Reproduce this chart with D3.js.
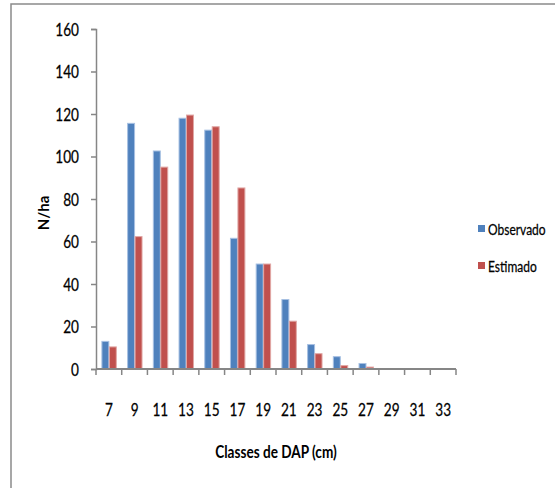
<!DOCTYPE html>
<html>
<head>
<meta charset="utf-8">
<script src="https://cdn.jsdelivr.net/npm/d3@7"></script>
<style>
  html, body { margin: 0; padding: 0; background: #fff; }
  svg { display: block; }
  text { font-family: Lato, "Open Sans", sans-serif; fill: #000; }
</style>
</head>
<body>
<svg id="chart" width="555" height="488"></svg>
<script>
// Diameter classes (cm) and stem density per hectare
const categories = ["7", "9", "11", "13", "15", "17", "19", "21", "23", "25", "27", "29", "31", "33"];
const observado = [13, 115.6, 102.6, 118, 112.4, 61.5, 49.4, 32.7, 11.5, 5.8, 2.6, 0, 0, 0];
const estimado  = [10.4, 62.3, 95, 119.5, 114, 85.2, 49.4, 22.5, 7.2, 1.6, 0.9, 0, 0, 0];
const yTicks = [0, 20, 40, 60, 80, 100, 120, 140, 160];
const seriesNames = ["Observado", "Estimado"];
const seriesColors = ["#4f81bd", "#c0504d"];
const seriesEdges = ["#a7c0e2", "#e0a7a5"];

const svg = d3.select("#chart");
const SX = 0.8;            // horizontal squeeze applied to all labels
const axisColor = "#868686";

// outer chart frame
svg.append("rect")
  .attr("x", 11).attr("y", 4)
  .attr("width", 700).attr("height", 600)
  .attr("fill", "none")
  .attr("stroke", "#8a8a8a")
  .attr("stroke-width", 1.5);

const plot = { left: 96, right: 456, top: 29, bottom: 369 };

const x = d3.scaleBand()
  .domain(categories)
  .range([plot.left, plot.right])
  .paddingInner(0.42)
  .paddingOuter(0.21);

const xSub = d3.scaleBand()
  .domain(seriesNames)
  .range([0, x.bandwidth()]);

const y = d3.scaleLinear()
  .domain([0, 160])
  .range([plot.bottom, plot.top]);

function label(g, tx, ty, str, opts = {}) {
  return g.append("text")
    .attr("transform", `translate(${tx},${ty}) scale(${opts.sx ?? SX},1)` + (opts.rotate ? ` rotate(${opts.rotate})` : ""))
    .attr("text-anchor", opts.anchor || "middle")
    .attr("dominant-baseline", "central")
    .style("font-size", (opts.size || 17) + "px")
    .style("font-weight", opts.bold ? "bold" : "normal")
    .style("stroke", opts.bold ? "none" : "#000")
    .style("stroke-width", opts.bold ? 0 : 0.25)
    .text(str);
}

// bars
const rows = categories.map((c, i) => ({ c, vals: [observado[i], estimado[i]] }));
const groups = svg.append("g").selectAll("g")
  .data(rows).join("g")
  .attr("transform", d => `translate(${x(d.c)},0)`);

groups.selectAll("rect")
  .data(d => d.vals.map((v, k) => ({ v, k })))
  .join("rect")
  .attr("x", d => xSub(seriesNames[d.k]) + 0.5)
  .attr("width", xSub.bandwidth() - 0.5)
  .attr("y", d => y(d.v))
  .attr("height", d => y(0) - y(d.v))
  .attr("fill", d => seriesColors[d.k])
  .attr("stroke", d => d.v > 0 ? seriesEdges[d.k] : "none")
  .attr("stroke-width", 1);

// y axis
const yAxis = svg.append("g")
  .attr("transform", `translate(${plot.left},0)`)
  .call(d3.axisLeft(y).tickValues(yTicks).tickSize(5).tickFormat(() => ""));
yAxis.selectAll("path, line").attr("stroke", axisColor).attr("stroke-width", 1.5);
yTicks.forEach(t => label(svg, plot.left - 17, y(t), String(t), { anchor: "end" }));

// x axis: ticks sit on category boundaries
const xAxis = svg.append("g")
  .attr("transform", `translate(0,${plot.bottom})`);
xAxis.append("line")
  .attr("x1", plot.left).attr("x2", plot.right)
  .attr("stroke", axisColor).attr("stroke-width", 2);
const step = x.step();
xAxis.selectAll("line.tick")
  .data(d3.range(categories.length + 1))
  .join("line")
  .attr("class", "tick")
  .attr("x1", i => plot.left + i * step)
  .attr("x2", i => plot.left + i * step)
  .attr("y1", 0).attr("y2", 6)
  .attr("stroke", axisColor).attr("stroke-width", 1.5);
categories.forEach(c => label(svg, x(c) + x.bandwidth() / 2, 409, c));

// axis titles
label(svg, (plot.left + plot.right) / 2, 451, "Classes de DAP (cm)", { bold: true, size: 17 });
label(svg, 43, 213, "N/ha", { bold: true, size: 15, sx: 1, rotate: -90 });

// legend
const legend = svg.append("g");
seriesNames.forEach((name, k) => {
  const ly = 229 + k * 37;
  legend.append("rect")
    .attr("x", 478).attr("y", ly - 4)
    .attr("width", 7).attr("height", 7)
    .attr("fill", seriesColors[k]);
  label(legend, 488, ly, name, { anchor: "start", size: 15 });
});
</script>
</body>
</html>
